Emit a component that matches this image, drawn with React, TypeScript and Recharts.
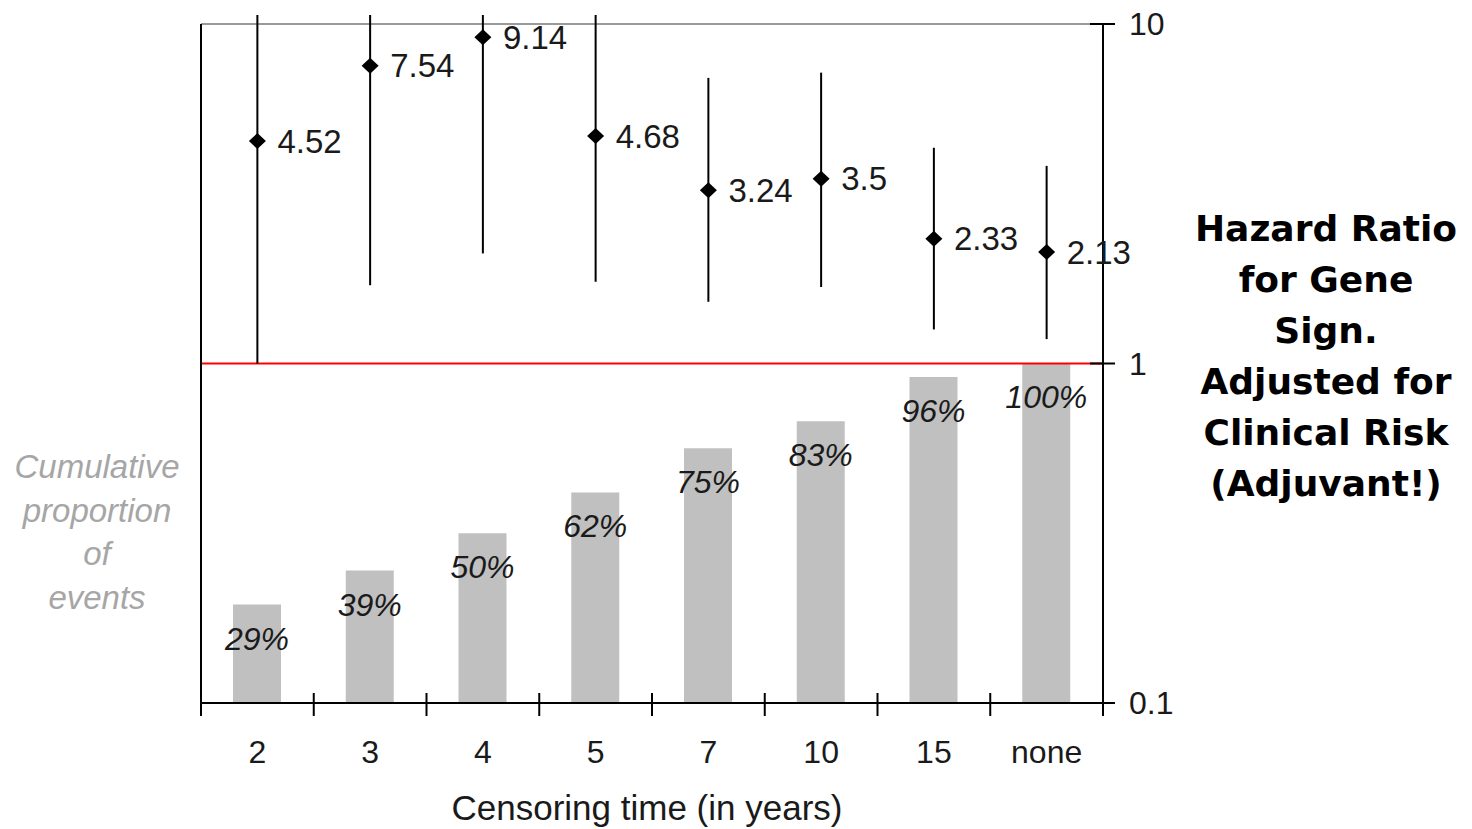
import React from "react";
import {
  ComposedChart,
  Bar,
  Scatter,
  ErrorBar,
  XAxis,
  YAxis,
  ReferenceLine,
  LabelList,
} from "recharts";

// values
const censoringTimes = ["2", "3", "4", "5", "7", "10", "15", "none"];
const hazardRatios = [4.52, 7.54, 9.14, 4.68, 3.24, 3.5, 2.33, 2.13];
const ciLower = [1.0, 1.7, 2.11, 1.74, 1.52, 1.68, 1.26, 1.18];
const ciUpper = [20.4, 33.4, 39.6, 12.6, 6.94, 7.19, 4.32, 3.82];
const eventShares = [29, 39, 50, 62, 75, 83, 96, 100];
const hrTicks = [0.1, 1, 10];

const data = censoringTimes.map((t, i) => ({
  time: t,
  hr: hazardRatios[i],
  lo: ciLower[i],
  hi: ciUpper[i],
  pct: eventShares[i],
}));

// layout
const W = 1472;
const H = 829;
const PLOT_LEFT = 201;
const PLOT_RIGHT = 1103;
const PLOT_TOP = 15;
const PLOT_BOTTOM = 703;
const LEFT_AXIS_W = 1;
const RIGHT_AXIS_W = 100;
const X_AXIS_H = 60;
const BAND = (PLOT_RIGHT - PLOT_LEFT) / censoringTimes.length;
// log axis runs a little past 10 so the open-ended CIs poke out above the frame
const HR_DOMAIN = [0.1, 10.63];
const PCT_DOMAIN = [0, 202.6];
const FRAME_GAP = "0 9 2000";

const FONT = "'Liberation Sans', Arial, sans-serif";
const INK = "#1a1a1a";

const X_TICK_SIZE = 13;
const X_TICK_MARGIN = 24;
const Y_TICK_SIZE = 12;
const Y_TICK_MARGIN = 14;

function XTick(props: any) {
  const { x, y, payload, index } = props;
  const axisY = y - X_TICK_SIZE - X_TICK_MARGIN;
  const half = BAND / 2;
  return (
    <g>
      {index === 0 && (
        <line x1={x - half} x2={x - half} y1={axisY - 10} y2={axisY + 13} stroke="#000" strokeWidth={2} />
      )}
      <line x1={x + half} x2={x + half} y1={axisY - 10} y2={axisY + 13} stroke="#000" strokeWidth={2} />
      <text x={x} y={y} dy="0.71em" textAnchor="middle" fontFamily={FONT} fontSize={32} fill={INK}>
        {payload.value}
      </text>
    </g>
  );
}

function HrTick(props: any) {
  const { x, y, payload } = props;
  const axisX = x - Y_TICK_SIZE - Y_TICK_MARGIN;
  return (
    <g>
      <line x1={axisX - 13} x2={axisX + 12} y1={y} y2={y} stroke="#000" strokeWidth={2} />
      <text x={x} y={y} dy="0.35em" textAnchor="start" fontFamily={FONT} fontSize={32} fill={INK}>
        {payload.value}
      </text>
    </g>
  );
}

function Diamond(props: any) {
  const { cx, cy, payload } = props;
  if (cx == null || cy == null) return null;
  return (
    <g>
      <polygon
        points={`${cx},${cy - 8} ${cx + 8.5},${cy} ${cx},${cy + 8} ${cx - 8.5},${cy}`}
        fill="#000"
      />
      <text x={cx + 20} y={cy} dy="0.35em" fontFamily={FONT} fontSize={33} fill={INK}>
        {payload.hr}
      </text>
    </g>
  );
}

function PctLabel(props: any) {
  const { x, y, width, value } = props;
  return (
    <text
      x={x + width / 2}
      y={y + 45}
      textAnchor="middle"
      fontFamily={FONT}
      fontStyle="italic"
      fontSize={32}
      fill={INK}
    >
      {value}%
    </text>
  );
}

// CI whiskers are cut at the top of the plot like in the original
const ciSpan = (d: any) => [d.hr - d.lo, Math.min(d.hi, HR_DOMAIN[1]) - d.hr];

export default function App() {
  return (
    <div style={{ position: "absolute", left: 0, top: 0, width: W, height: H, background: "#fff" }}>
      <ComposedChart
        width={W}
        height={H}
        data={data}
        margin={{
          top: PLOT_TOP,
          left: PLOT_LEFT - LEFT_AXIS_W,
          right: W - PLOT_RIGHT - RIGHT_AXIS_W,
          bottom: H - PLOT_BOTTOM - X_AXIS_H,
        }}
      >
        <XAxis
          dataKey="time"
          type="category"
          interval={0}
          height={X_AXIS_H}
          tickLine={false}
          tickSize={X_TICK_SIZE}
          tickMargin={X_TICK_MARGIN}
          axisLine={{ stroke: "#000", strokeWidth: 2 }}
          tick={<XTick />}
        />
        <YAxis
          yAxisId="pct"
          orientation="left"
          type="number"
          domain={PCT_DOMAIN}
          allowDataOverflow
          width={LEFT_AXIS_W}
          tick={false}
          tickLine={false}
          axisLine={{ stroke: "#000", strokeWidth: 2, strokeDasharray: FRAME_GAP }}
        />
        <YAxis
          yAxisId="hr"
          orientation="right"
          type="number"
          scale="log"
          domain={HR_DOMAIN}
          allowDataOverflow
          ticks={hrTicks}
          interval={0}
          width={RIGHT_AXIS_W}
          tickLine={false}
          tickSize={Y_TICK_SIZE}
          tickMargin={Y_TICK_MARGIN}
          axisLine={{ stroke: "#000", strokeWidth: 2, strokeDasharray: FRAME_GAP }}
          tick={<HrTick />}
        />
        <ReferenceLine yAxisId="hr" y={10} stroke="#9a9a9a" strokeWidth={2} />
        <Bar yAxisId="pct" dataKey="pct" fill="#c0c0c0" barSize={48} isAnimationActive={false}>
          <LabelList dataKey="pct" content={<PctLabel />} />
        </Bar>
        <ReferenceLine yAxisId="hr" y={1} stroke="#ff0000" strokeWidth={2} />
        <Scatter yAxisId="hr" dataKey="hr" shape={<Diamond />} isAnimationActive={false}>
          <ErrorBar
            dataKey={ciSpan}
            direction="y"
            width={0}
            stroke="#000"
            strokeWidth={2}
            isAnimationActive={false}
          />
        </Scatter>
      </ComposedChart>

      <div
        style={{
          position: "absolute",
          left: 0,
          top: 445,
          width: 194,
          textAlign: "center",
          fontFamily: FONT,
          fontStyle: "italic",
          fontSize: 33,
          lineHeight: "43.5px",
          color: "#a6a6a6",
        }}
      >
        Cumulative
        <br />
        proportion
        <br />
        of
        <br />
        events
      </div>

      <div
        style={{
          position: "absolute",
          left: 447,
          top: 790,
          width: 400,
          textAlign: "center",
          fontFamily: FONT,
          fontSize: 35,
          lineHeight: "35px",
          color: INK,
          whiteSpace: "nowrap",
        }}
      >
        Censoring time (in years)
      </div>

      <div
        style={{
          position: "absolute",
          left: 1176,
          top: 203,
          width: 300,
          textAlign: "center",
          fontFamily: "'Comic Sans MS', 'DejaVu Sans', sans-serif",
          fontWeight: "bold",
          fontSize: 36,
          lineHeight: "51px",
          color: "#000",
          whiteSpace: "nowrap",
        }}
      >
        Hazard Ratio
        <br />
        for Gene
        <br />
        Sign.
        <br />
        Adjusted for
        <br />
        Clinical Risk
        <br />
        (Adjuvant!)
      </div>
    </div>
  );
}
